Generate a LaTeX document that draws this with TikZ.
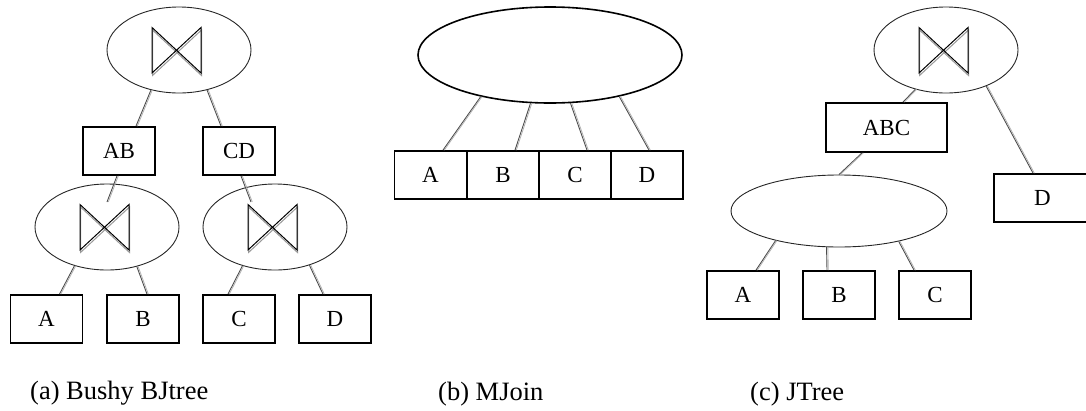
\documentclass[tikz,border=0pt]{standalone}
\usepackage{fontspec}
\setmainfont{Liberation Serif}
\usetikzlibrary{shapes.geometric,calc}
\tikzset{
  box/.style={draw=black, line width=1.8pt, rectangle, minimum width=72pt, minimum height=48pt, inner sep=0pt, font=\fontsize{23}{26}\selectfont},
  joinell/.style={draw=black!85, line width=0.9pt, ellipse, minimum width=144pt, minimum height=86pt, inner sep=0pt},
  conn/.style={draw=black!70, line width=0.9pt, postaction={draw=black!30, line width=0.8pt, transform canvas={xshift=1.3pt}}},
  btblack/.style={draw=black, line width=1pt, line join=miter},
  btgray/.style={draw=black!40, line width=1pt, line join=miter},
  caption/.style={anchor=base west, inner sep=0pt, font=\fontsize{26.5}{30}\selectfont}
}
\newcommand{\mybowtie}[1]{%
  \draw[btgray] ([shift={(-26.5,-20)}]#1.center) -- ([shift={(-26.5,25.5)}]#1.center) -- ([shift={(22.5,-20)}]#1.center) -- ([shift={(22.5,25.5)}]#1.center) -- cycle;
  \draw[btblack] ([shift={(-27,-22.5)}]#1.center) -- ([shift={(-27,23)}]#1.center) -- ([shift={(22,-22.5)}]#1.center) -- ([shift={(22,23)}]#1.center) -- cycle;
}
\begin{document}
\begin{tikzpicture}[x=1pt, y=-1pt]
\useasboundingbox (0,0) rectangle (1086,410);

% ---------- (a) Bushy BJtree ----------
\node[joinell] (aT) at (179,50) {};
\node[box] (aAB) at (119,151) {AB};
\node[box] (aCD) at (239,151) {CD};
\node[joinell] (aL) at (107,227) {};
\node[joinell] (aR) at (275,227) {};
\node[box] (aA) at (46.5,319) {A};
\node[box] (aB) at (143,319) {B};
\node[box] (aC) at (239,319) {C};
\node[box] (aD) at (335,319) {D};
\mybowtie{aT}
\mybowtie{aL}
\mybowtie{aR}
\draw[conn] (aT.235) -- ([xshift=17pt]aAB.north);
\draw[conn] (aT.305) -- ([xshift=-18pt]aCD.north);
\draw[conn] ([xshift=-2pt]aAB.south) -- ([yshift=25pt]aL.center);
\draw[conn] ([xshift=2pt]aCD.south) -- ([shift={(-24,-25)}]aR.center);
\draw[conn] (aL.230) -- ([xshift=13pt]aA.north);
\draw[conn] (aL.307) -- ([xshift=4pt]aB.north);
\draw[conn] (aR.230) -- ([xshift=-11pt]aC.north);
\draw[conn] (aR.312) -- ([xshift=-12pt]aD.north);
\node[caption] (capa) at (30,399) {(a) Bushy BJtree};

% ---------- (b) MJoin ----------
\node[draw=black, line width=1.6pt, ellipse, minimum width=264pt, minimum height=96pt, inner sep=0pt] (bM) at (550,55) {};
\node[box] (bA) at (430.5,175) {A};
\node[box] (bB) at (503,175) {B};
\node[box] (bC) at (575,175) {C};
\node[box] (bD) at (647,175) {D};
\draw[conn] (bM.211) -- ([xshift=12.5pt]bA.north);
\draw[conn] (bM.248) -- ([xshift=12pt]bB.north);
\draw[conn] (bM.293.6) -- ([xshift=12pt]bC.north);
\draw[conn] (bM.329) -- ([xshift=2pt]bD.north);
\node[caption] (capb) at (438,400) {(b) MJoin};

% ---------- (c) JTree ----------
\node[joinell] (cT) at (946,50) {};
\node[box, minimum width=121pt, minimum height=49pt] (cABC) at (886.5,127.5) {ABC};
\node[box, minimum width=97pt] (cD) at (1042.5,198) {D};
\node[draw=black!85, line width=0.9pt, ellipse, minimum width=216pt, minimum height=72pt, inner sep=0pt] (cE) at (839,211) {};
\node[box] (cA) at (743,295) {A};
\node[box] (cB) at (839,295) {B};
\node[box] (cC) at (935,295) {C};
\mybowtie{cT}
\draw[conn] (cT.232) -- ([xshift=16.5pt]cABC.north);
\draw[conn] (cT.318.7) -- ([xshift=-9.5pt]cD.north);
\draw[conn] ([xshift=-24.5pt]cABC.south) -- (cE.north);
\draw[conn] (cE.205) -- ([xshift=13pt]cA.north);
\draw[conn] (cE.251.6) -- ([xshift=-12pt]cB.north);
\draw[conn] (cE.333.8) -- ([xshift=-21pt]cC.north);
\node[caption] (capc) at (750,400) {(c) JTree};
\end{tikzpicture}
\end{document}
